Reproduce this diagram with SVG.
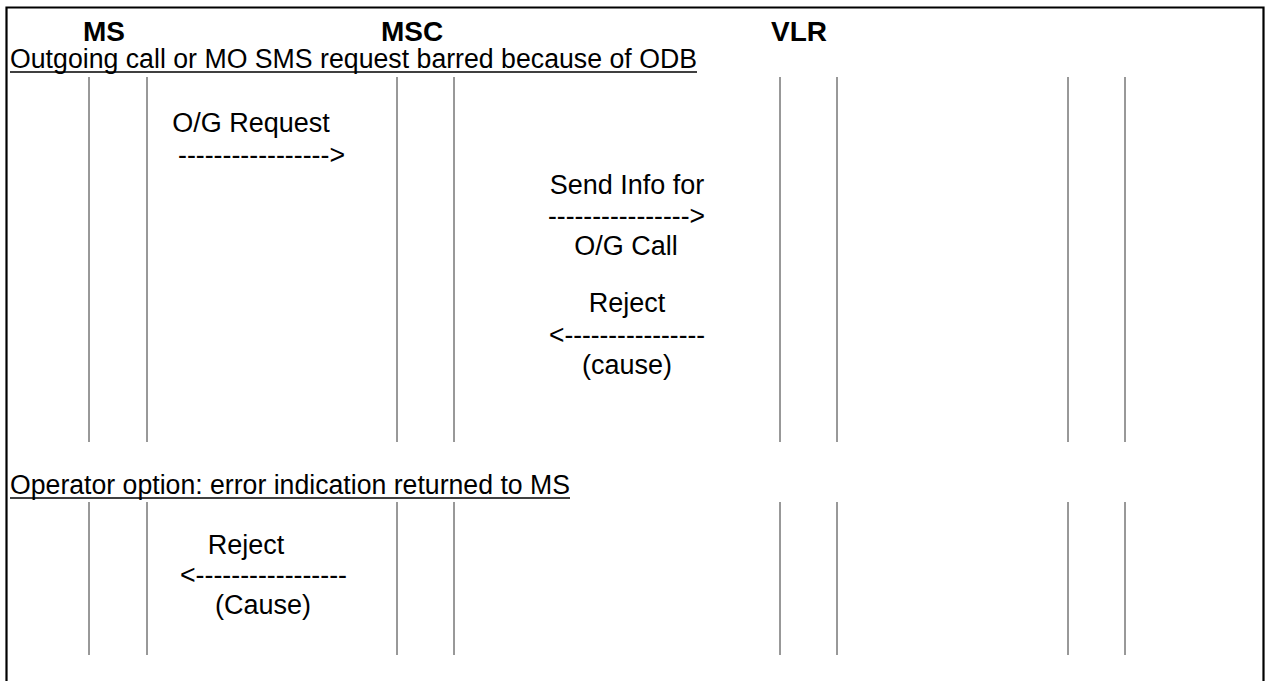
<svg xmlns="http://www.w3.org/2000/svg" width="1269" height="681" viewBox="0 0 1269 681">
<style>
.hdr{font-family:"Liberation Sans",Arial,sans-serif;font-weight:bold;font-size:28px;fill:#000;text-anchor:middle}
.t{font-family:"Liberation Sans",Arial,sans-serif;font-size:27px;fill:#000}
.c{text-anchor:middle}
.ll{stroke:#333;stroke-width:1;fill:none}
.ul{stroke:#000;stroke-width:1.5}
</style>
<rect width="1269" height="681" fill="#fff"/>
<path d="M6.5 681 V7.5 H1263.5 V681" fill="none" stroke="#000" stroke-width="2.2"/>
<g id="ms"><text class="hdr" x="104" y="41">MS</text></g>
<g id="msc"><text class="hdr" x="412" y="41">MSC</text></g>
<g id="vlr"><text class="hdr" x="799" y="41">VLR</text></g>
<g id="section1">
<text class="t" x="10" y="68" textLength="687" lengthAdjust="spacingAndGlyphs">Outgoing call or MO SMS request barred because of ODB</text>
<line class="ul" x1="10" y1="72" x2="697" y2="72"/>
</g>
<g id="section2">
<text class="t" x="10" y="494" textLength="560" lengthAdjust="spacingAndGlyphs">Operator option: error indication returned to MS</text>
<line class="ul" x1="10" y1="498" x2="570" y2="498"/>
</g>
<g id="lifelines">
<path class="ll" d="M89 77V442M147 77V442M397 77V442M454 77V442M780 77V442M837 77V442M1068 77V442M1125 77V442"/>
<path class="ll" d="M89 502V655M147 502V655M397 502V655M454 502V655M780 502V655M837 502V655M1068 502V655M1125 502V655"/>
</g>
<g id="connectors">
<g id="m1"><text class="t c" x="251" y="132">O/G Request</text><text class="t" x="178" y="164" textLength="167" lengthAdjust="spacingAndGlyphs">-----------------&gt;</text></g>
<g id="m2"><text class="t c" x="627" y="194">Send Info for</text><text class="t" x="548" y="225" textLength="157" lengthAdjust="spacingAndGlyphs">----------------&gt;</text><text class="t c" x="626" y="255">O/G Call</text></g>
<g id="m3"><text class="t c" x="627" y="312">Reject</text><text class="t" x="549" y="344" textLength="156" lengthAdjust="spacingAndGlyphs">&lt;----------------</text><text class="t c" x="627" y="374">(cause)</text></g>
<g id="m4"><text class="t c" x="246" y="554">Reject</text><text class="t" x="180" y="584" textLength="167" lengthAdjust="spacingAndGlyphs">&lt;-----------------</text><text class="t c" x="263" y="614">(Cause)</text></g>
</g>
</svg>
